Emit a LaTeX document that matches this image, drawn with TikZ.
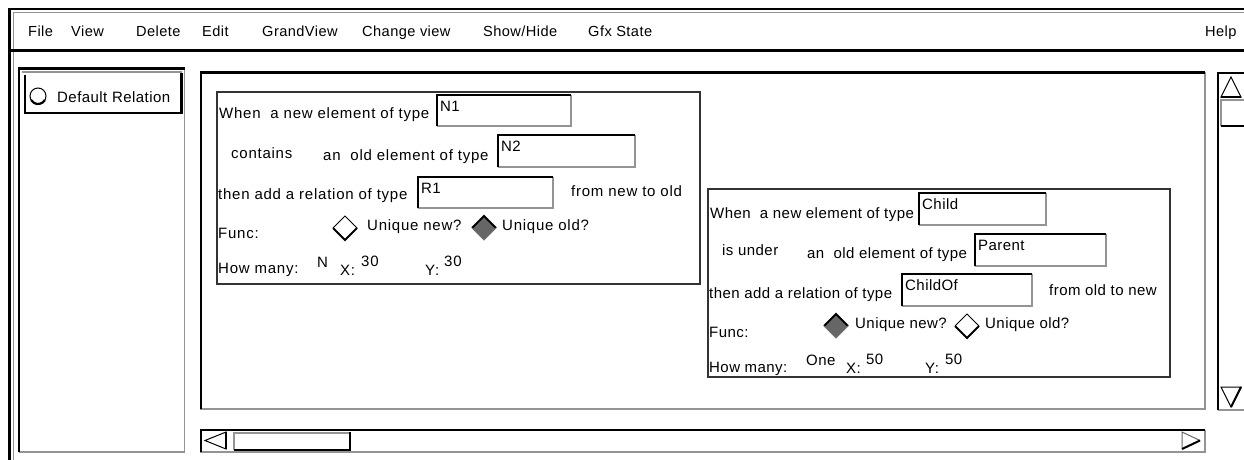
\documentclass[tikz,border=0pt]{standalone}
\usepackage{fontspec}
\setmainfont{Liberation Sans}[LetterSpace=3]
\newfontfamily\widefont{Liberation Sans}[LetterSpace=5]
\begin{document}
\begin{tikzpicture}[x=1pt,y=-1pt,line join=miter]
\tikzset{
  lbl/.style={font=\fontsize{15}{18}\selectfont, inner sep=0pt, anchor=base west},
  wlbl/.style={font=\widefont\fontsize{15}{18}\selectfont, inner sep=0pt, anchor=base west},
  menu/.style={font=\fontsize{14.6}{17}\selectfont, inner sep=0pt, anchor=base west},
  hilite/.style={line width=2.5pt, black},
  shade/.style={line width=1.6pt, black!42},
  boxline/.style={line width=1.2pt, black!80},
}
% sunken text field: name, x1, y1, x2, y2, contents
\newcommand\uifield[6]{%
  \fill[white] (#2,#3) rectangle (#4,#5);
  \draw[shade] (#4,#3) -- (#4,#5) -- (#2,#5);
  \draw[hilite] (#2,#5) -- (#2,#3) -- (#4,#3);
  \node[lbl, xshift=3pt, yshift=-16pt] (#1) at (#2,#3) {#6};
}
% radio diamonds: name, cx, cy
\newcommand\diamondoff[3]{%
  \coordinate (#1) at (#2,#3);
  \fill[white] (#1) +(0,-12) -- +(12,0) -- +(0,12) -- +(-12,0) -- cycle;
  \draw[line width=1pt] (#1) +(-12,0) -- +(0,-12) -- +(12,0);
  \draw[line width=2pt] (#1) +(12,0) -- +(0,12) -- +(-12,0);
}
\newcommand\diamondon[3]{%
  \coordinate (#1) at (#2,#3);
  \fill[black!60] (#1) +(0,-12) -- +(12,0) -- +(0,12) -- +(-12,0) -- cycle;
  \draw[line width=2pt] (#1) +(-12,0) -- +(0,-12) -- +(12,0);
  \draw[line width=1pt, black!55] (#1) +(12,0) -- +(0,12) -- +(-12,0);
}

\useasboundingbox (0,0) rectangle (1244,460);
\fill[white] (0,0) rectangle (1244,460);

% window frame
\draw[shade] (13,12.5) -- (1244,12.5);
\draw[hilite] (8,9) -- (1244,9);
\draw[shade] (13.5,12) -- (13.5,460);
\draw[line width=3pt] (9.5,8) -- (9.5,460);

% menu bar
\node[menu] (mFile) at (28,37) {File};
\node[menu] (mView) at (71,37) {View};
\node[menu] (mDelete) at (136,37) {Delete};
\node[menu] (mEdit) at (202,37) {Edit};
\node[menu] (mGrand) at (262,37) {GrandView};
\node[menu] (mChange) at (362,37) {Change view};
\node[menu] (mShow) at (483,37) {Show/Hide};
\node[menu] (mGfx) at (588,37) {Gfx State};
\node[menu] (mHelp) at (1205,37) {Help};
\draw[hilite] (11,50.5) -- (1244,50.5);

% relation list
\draw[shade] (184.5,68) -- (184.5,452) -- (19,452);
\draw[hilite] (19,452) -- (19,68.5) -- (184.5,68.5);
\draw[shade] (22,72) -- (182,72);
\draw[hilite] (25,75) -- (25,113) -- (181.5,113) -- (181.5,73);
\draw[line width=1pt] (38,96) circle[radius=8];
\draw[line width=2.2pt] (38,96) ++(30:8) arc[start angle=30, end angle=150, radius=8];
\node[lbl] (defrel) at (57,102) {Default Relation};

% drawing area
\draw[shade] (1205,72) -- (1205,409) -- (200,409);
\draw[hilite] (201,409) -- (201,72.5) -- (1205,72.5);

% vertical scroll bar
\draw[shade] (1218,410) -- (1246,410);
\draw[hilite] (1218,410) -- (1218,73) -- (1246,73);
\draw[line width=1pt] (1231,77) -- (1241,97) -- (1221,97) -- cycle;
\draw[line width=2pt] (1241,97) -- (1221,97);
\draw[shade] (1221,126) -- (1221,100) -- (1246,100);
\draw[hilite] (1221,126) -- (1246,126);
\draw[line width=1pt] (1221,387) -- (1241,387) -- (1231,407) -- cycle;
\draw[line width=2pt] (1241,387) -- (1231,407);

% horizontal scroll bar
\draw[shade] (1205,430) -- (1205,452) -- (200,452);
\draw[hilite] (201,452) -- (201,430) -- (1205,430);
\draw[line width=1pt] (205,440.5) -- (226,432) -- (226,449) -- cycle;
\draw[line width=2pt] (226,432) -- (226,449);
\draw[shade] (234,450) -- (234,433) -- (350,433);
\draw[hilite] (234,450) -- (350,450) -- (350,432);
\draw[line width=1pt, black!60] (1200,440.5) -- (1182,432) -- (1182,449);
\draw[line width=2pt] (1182,449) -- (1200,440.5);

% first rule
\draw[boxline] (217,92) rectangle (700,284);
\node[wlbl] (r1when) at (219,118) {When\ \ a new element of type};
\uifield{r1new}{437}{95}{571}{126}{N1}
\node[wlbl] (r1rel) at (231,158) {contains};
\node[wlbl] (r1old) at (323,160) {an\ \ old element of type};
\uifield{r1oldtype}{498}{135}{635}{167}{N2}
\node[wlbl] (r1then) at (218,199) {then add a relation of type};
\uifield{r1reltype}{418}{177}{553}{208}{R1}
\node[wlbl] (r1dir) at (571,196) {from new to old};
\node[wlbl] (r1func) at (218,238) {Func:};
\diamondoff{r1dnew}{345}{228}
\node[wlbl] (r1unew) at (367,230) {Unique new?};
\diamondon{r1dold}{484}{228}
\node[wlbl] (r1uold) at (502,230) {Unique old?};
\node[wlbl] (r1many) at (218,273) {How many:};
\node[wlbl] (r1count) at (317,267) {N};
\node[wlbl] (r1xl) at (340,275) {X:};
\node[wlbl] (r1x) at (361,266) {30};
\node[wlbl] (r1yl) at (425,275) {Y:};
\node[wlbl] (r1y) at (444,266) {30};

% second rule
\draw[boxline] (708,189) rectangle (1170,377);
\node[lbl] (r2when) at (710,218) {When\ \ a new element of type};
\uifield{r2new}{919}{193}{1046}{225}{Child}
\node[lbl] (r2rel) at (722,255) {is under};
\node[lbl] (r2old) at (807,258) {an\ \ old element of type};
\uifield{r2oldtype}{975}{234}{1106}{266}{Parent}
\node[lbl] (r2then) at (709,298) {then add a relation of type};
\uifield{r2reltype}{902}{274}{1032}{306}{ChildOf}
\node[lbl] (r2dir) at (1049,295) {from old to new};
\node[lbl] (r2func) at (709,337) {Func:};
\diamondon{r2dnew}{836}{326}
\node[lbl] (r2unew) at (855,328) {Unique new?};
\diamondoff{r2dold}{967}{326}
\node[lbl] (r2uold) at (985,328) {Unique old?};
\node[lbl] (r2many) at (709,372) {How many:};
\node[lbl] (r2count) at (806,365) {One};
\node[lbl] (r2xl) at (846,373) {X:};
\node[lbl] (r2x) at (866,364) {50};
\node[lbl] (r2yl) at (925,373) {Y:};
\node[lbl] (r2y) at (945,364) {50};
\end{tikzpicture}
\end{document}
